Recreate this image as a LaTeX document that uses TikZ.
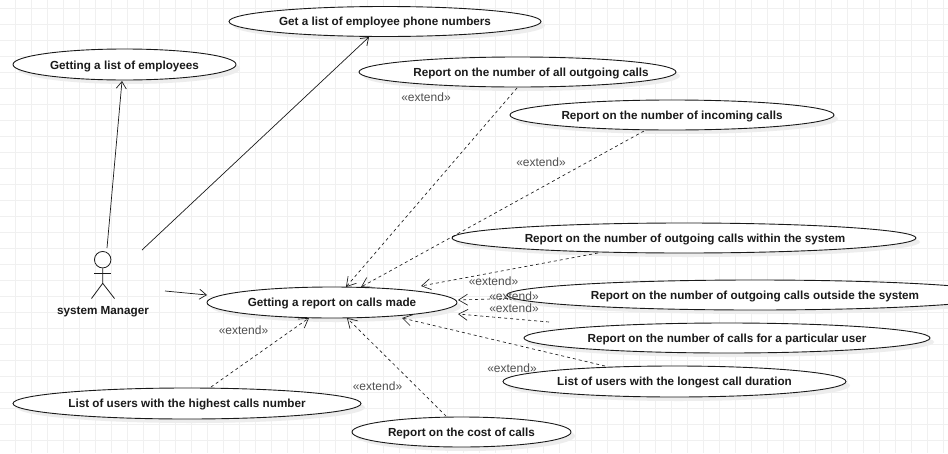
\documentclass[tikz,border=0pt]{standalone}
\usepackage{fontspec}
\setmainfont{Liberation Sans}
\usetikzlibrary{shapes.geometric,arrows.meta,shadows}
\pgfdeclarelayer{gridlayer}
\pgfsetlayers{gridlayer,main}
\definecolor{gridc}{HTML}{F0F0F0}
\definecolor{shadowc}{HTML}{EDEDED}
\definecolor{inkc}{HTML}{1A1A1A}
\definecolor{extc}{HTML}{505050}
% text of a use case: #1 doubled horizontal shift, #2 drop below the centre, #3 text
\newcommand\uctx[3]{\makebox[0pt]{\hspace{#1}\raisebox{-#2}[0pt][0pt]{#3}}}
\newcommand\uct[1]{\uctx{0pt}{4.3pt}{#1}}
\tikzset{
  uc/.style={ellipse,draw=inkc,line width=0.9pt,fill=white,inner sep=0pt,font=\fontsize{11.7}{14}\selectfont\bfseries,text=inkc,
    general shadow={fill=shadowc,shadow xshift=4pt,shadow yshift=-4pt}},
  assoc/.style={draw=inkc,line width=0.7pt,-{Straight Barb[length=7pt,width=10pt]}},
  ext/.style={draw=inkc,line width=0.65pt,dash pattern=on 3pt off 3pt,-{Straight Barb[length=9pt,width=11pt]}},
  extlabel/.style={font=\fontsize{12}{14}\selectfont,text=extc,inner sep=0pt},
  actorline/.style={draw=inkc,line width=0.8pt},
  actorname/.style={font=\fontsize{11.7}{14}\selectfont\bfseries,text=inkc,inner sep=0pt}
}
\begin{document}
\begin{tikzpicture}[x=1pt,y=-1pt]
\useasboundingbox (0,0) rectangle (948,453);
\begin{pgfonlayer}{gridlayer}
  \fill[white] (0,0) rectangle (948,453);
  \foreach \k in {0,...,59}{\draw[gridc,line width=1pt] (15.5+16*\k,0) -- (15.5+16*\k,453);}
  \foreach \k in {0,...,28}{\draw[gridc,line width=1pt] (0,8.5+16*\k) -- (948,8.5+16*\k);}
\end{pgfonlayer}
% use cases
\node[uc,minimum width=223,minimum height=31] (employees) at (124.5,64.5) {\uctx{0pt}{5.1pt}{Getting a list of employees}};
\node[uc,minimum width=312,minimum height=30] (phones) at (385,21.5) {\uct{Get a list of employee phone numbers}};
\node[uc,minimum width=317,minimum height=30] (alloutgoing) at (517.5,72) {\uctx{27pt}{4.3pt}{Report on the number of all outgoing calls}};
\node[uc,minimum width=324,minimum height=30] (incoming) at (672,115) {\uct{Report on the number of incoming calls}};
\node[uc,minimum width=464,minimum height=30] (within) at (684,238) {\uctx{2pt}{4.3pt}{Report on the number of outgoing calls within the system}};
\node[uc,minimum width=496,minimum height=30] (outside) at (755,295) {\uct{Report on the number of outgoing calls outside the system}};
\node[uc,minimum width=406,minimum height=30] (particular) at (727,338) {\uct{Report on the number of calls for a particular user}};
\node[uc,minimum width=343,minimum height=31] (longest) at (674.5,381.5) {\uct{List of users with the longest call duration}};
\node[uc,minimum width=250,minimum height=31] (report) at (332,302.5) {\uct{Getting a report on calls made}};
\node[uc,minimum width=348,minimum height=31] (highest) at (187,403.5) {\uct{List of users with the highest calls number}};
\node[uc,minimum width=219,minimum height=30] (cost) at (461.5,432) {\uct{Report on the cost of calls}};
% actor
\node[circle,actorline,minimum size=16.5,inner sep=0pt] (head) at (102.7,259.7) {};
\coordinate (neck) at (102.7,283.3);
\coordinate (armL) at (94.3,273.3);
\coordinate (armR) at (111,273.3);
\coordinate (legL) at (91.5,298.5);
\coordinate (legR) at (114.5,298.5);
\draw[actorline] (head.south) -- (neck) -- (legL);
\draw[actorline] (neck) -- (legR);
\draw[actorline] (armL) -- (armR);
\node[actorname] (actorlabel) at (103,312) {system Manager};
% free ends near the actor
\coordinate (a1) at (107,248);
\coordinate (a2) at (142,250);
\coordinate (a3) at (165,291);
\coordinate (t1) at (122,81);
\coordinate (t2) at (369,37);
\coordinate (t3) at (207,295);
% extend ends
\coordinate (sAll) at (517,88);   \coordinate (tAll) at (346,287);
\coordinate (sInc) at (644,131);  \coordinate (tInc) at (361,287);
\coordinate (sWit) at (598,253);  \coordinate (tWit) at (421,286);
\coordinate (sOut) at (508,298.5);  \coordinate (tOut) at (458,300);
\coordinate (sPar) at (549,322);  \coordinate (tPar) at (458,314);
\coordinate (sLon) at (605,366);  \coordinate (tLon) at (402,318);
\coordinate (sHig) at (211,387);  \coordinate (tHig) at (309,318);
\coordinate (sCos) at (446,416);  \coordinate (tCos) at (347,318);
\draw[assoc] (a1) -- (t1);
\draw[assoc] (a2) -- (t2);
\draw[assoc] (a3) -- (t3);
\draw[ext] (sAll) -- (tAll);
\draw[ext] (sInc) -- (tInc);
\draw[ext] (sWit) -- (tWit);
\draw[ext] (sOut) -- (tOut);
\draw[ext] (sPar) -- (tPar);
\draw[ext] (sLon) -- (tLon);
\draw[ext] (sHig) -- (tHig);
\draw[ext] (sCos) -- (tCos);
% labels
\node[extlabel] (l1) at (426,97) {«extend»};
\node[extlabel] (l2) at (541,162.5) {«extend»};
\node[extlabel] (l3) at (493.5,281) {«extend»};
\node[extlabel] (l4) at (514,296) {«extend»};
\node[extlabel] (l5) at (514,308) {«extend»};
\node[extlabel] (l6) at (512,368) {«extend»};
\node[extlabel] (l7) at (243.5,330) {«extend»};
\node[extlabel] (l8) at (377.5,386) {«extend»};
\end{tikzpicture}
\end{document}
